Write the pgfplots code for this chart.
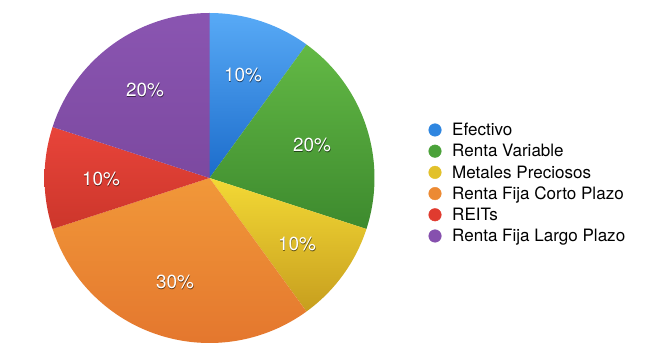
\documentclass[border=0pt]{standalone}
\usepackage{fontspec}
\setmainfont{TeX Gyre Heros}
\usepackage{pgfplots}
\pgfplotsset{compat=1.18}
\definecolor{bluetop}{HTML}{58AAF6}
\definecolor{bluebot}{HTML}{1C6CCB}
\definecolor{bluemid}{HTML}{2F86E0}
\definecolor{greentop}{HTML}{63B945}
\definecolor{greenbot}{HTML}{3D8A2E}
\definecolor{greenmid}{HTML}{4BA23A}
\definecolor{yellowtop}{HTML}{F3D935}
\definecolor{yellowbot}{HTML}{C79E1E}
\definecolor{yellowmid}{HTML}{E2C12B}
\definecolor{orangetop}{HTML}{F19839}
\definecolor{orangebot}{HTML}{E4772E}
\definecolor{orangemid}{HTML}{EC8A33}
\definecolor{redtop}{HTML}{E8443A}
\definecolor{redbot}{HTML}{CC362B}
\definecolor{redmid}{HTML}{E03B2F}
\definecolor{purpletop}{HTML}{8A55B1}
\definecolor{purplebot}{HTML}{7C49A0}
\definecolor{purplemid}{HTML}{8650AE}
\begin{document}
\begin{tikzpicture}
\begin{axis}[
  scale only axis, width=655bp, height=356bp,
  xmin=0, xmax=655, ymin=0, ymax=356,
  hide axis, clip=false,
]
\path (axis cs:0,0) rectangle (axis cs:655,356);
% slices: Efectivo 10, Renta Variable 20, Metales 10, RF Corto 30, REITs 10, RF Largo 20 (clockwise from top)
\addplot[draw=none, top color=bluetop, bottom color=bluebot, domain=54:90, samples=40, variable=\t]
  ({209.5+165*cos(\t)},{178+165*sin(\t)}) -- (axis cs:209.5,178) -- cycle;
\addplot[draw=none, top color=greentop, bottom color=greenbot, domain=-18:54, samples=60, variable=\t]
  ({209.5+165*cos(\t)},{178+165*sin(\t)}) -- (axis cs:209.5,178) -- cycle;
\addplot[draw=none, top color=yellowtop, bottom color=yellowbot, domain=-54:-18, samples=40, variable=\t]
  ({209.5+165*cos(\t)},{178+165*sin(\t)}) -- (axis cs:209.5,178) -- cycle;
\addplot[draw=none, top color=orangetop, bottom color=orangebot, domain=-162:-54, samples=80, variable=\t]
  ({209.5+165*cos(\t)},{178+165*sin(\t)}) -- (axis cs:209.5,178) -- cycle;
\addplot[draw=none, top color=redtop, bottom color=redbot, domain=-198:-162, samples=40, variable=\t]
  ({209.5+165*cos(\t)},{178+165*sin(\t)}) -- (axis cs:209.5,178) -- cycle;
\addplot[draw=none, top color=purpletop, bottom color=purplebot, domain=-270:-198, samples=60, variable=\t]
  ({209.5+165*cos(\t)},{178+165*sin(\t)}) -- (axis cs:209.5,178) -- cycle;
% percentage labels (shadow then white)
\pgfplotsset{pielab/.style={draw=none, mark=none, point meta=explicit symbolic,
  nodes near coords={\pgfplotspointmeta\%},
  nodes near coords style={anchor=center, inner sep=0pt, font=\fontsize{19}{23}\selectfont}}}
\addplot[pielab, nodes near coords style={black, opacity=0.55, xshift=0.4bp, yshift=-1.3bp}] table[meta=p] {
x y p
243 281 10
312 211 20
297 112 10
175 74 30
101 177 10
145 266 20
};
\addplot[pielab, nodes near coords style={white}] table[meta=p] {
x y p
243 281 10
312 211 20
297 112 10
175 74 30
101 177 10
145 266 20
};
% legend
\pgfplotsset{leg/.style={only marks, mark=*, mark size=6.3bp, point meta=explicit symbolic,
  nodes near coords={\pgfplotspointmeta},
  nodes near coords style={black, anchor=base west, inner sep=0pt, xshift=17bp, yshift=-5.8bp,
    font=\fontsize{17.1}{20}\selectfont}}}
\addplot[leg, bluemid] coordinates {(435,226) [Efectivo]};
\addplot[leg, greenmid] coordinates {(435,204.8) [Renta Variable]};
\addplot[leg, yellowmid] coordinates {(435,183.6) [Metales Preciosos]};
\addplot[leg, orangemid] coordinates {(435,162.4) [Renta Fija Corto Plazo]};
\addplot[leg, redmid] coordinates {(435,141.2) [REITs]};
\addplot[leg, purplemid] coordinates {(435,120) [Renta Fija Largo Plazo]};
\end{axis}
\end{tikzpicture}
\end{document}
